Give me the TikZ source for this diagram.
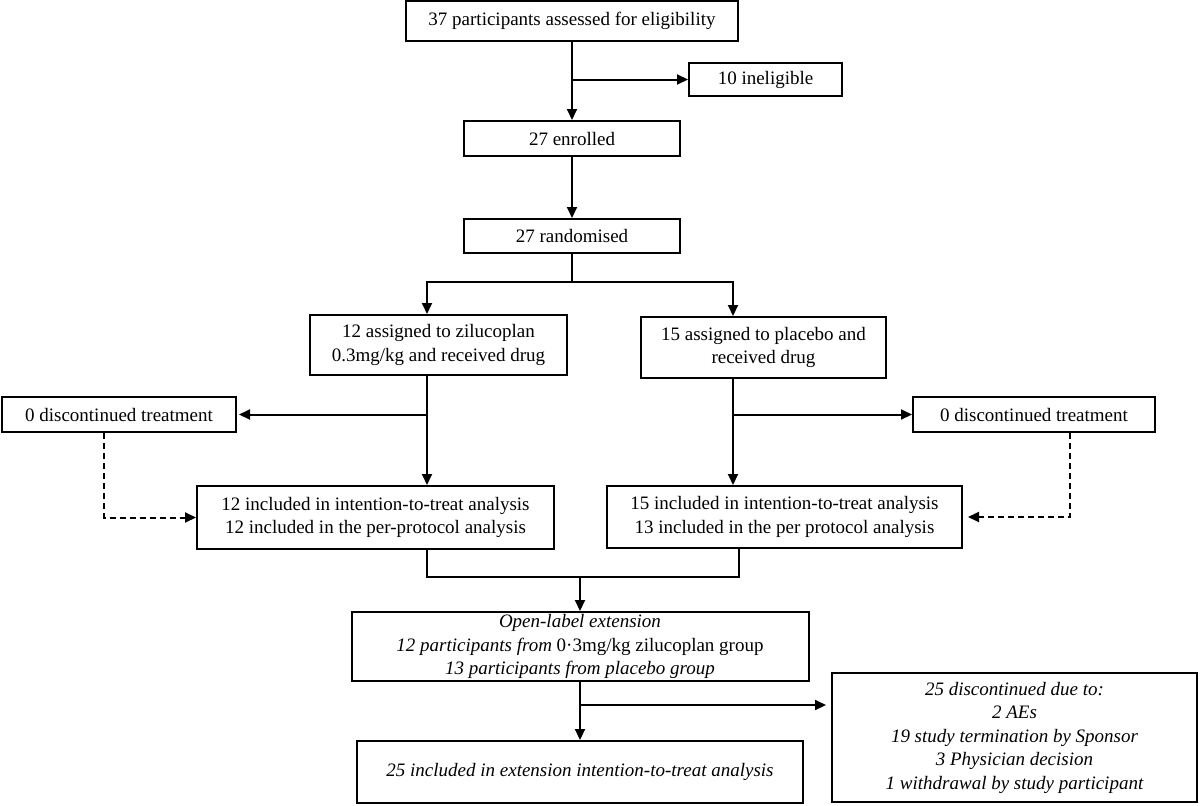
\documentclass[tikz,border=0pt]{standalone}
\usepackage{fontspec}
\setmainfont{Liberation Serif}
\usetikzlibrary{arrows.meta}

\begin{document}
\begin{tikzpicture}[x=1pt, y=-1pt,
	box/.style={draw, line width=2pt, align=center, inner sep=2pt, font=\fontsize{19}{23.5}\selectfont},
	arr/.style={line width=2pt, -{Triangle[length=11pt,width=10pt]}},
	dasharr/.style={arr, dash pattern=on 6pt off 4pt}]

\useasboundingbox (0,0) rectangle (1200,806);

% boxes
\node[box, minimum width=332pt, minimum height=40pt] (elig) at (572,21) {37 participants assessed for eligibility};
\node[box, minimum width=153pt, minimum height=33pt] (inelig) at (765.5,79.5) {10 ineligible};
\node[box, minimum width=216pt, minimum height=35pt] (enrol) at (572,138.5) {27 enrolled};
\node[box, minimum width=216pt, minimum height=34pt] (rand) at (572,236) {27 randomised};

\node[box, minimum width=257pt, minimum height=60pt] (zil) at (438.5,345) {12 assigned to zilucoplan\\0.3mg/kg and received drug};
\node[box, minimum width=245pt, minimum height=61pt] (plac) at (763.5,347.5) {15 assigned to placebo and\\received drug};

\node[box, minimum width=234pt, minimum height=35pt] (discL) at (119,414.5) {0 discontinued treatment};
\node[box, minimum width=242pt, minimum height=35pt] (discR) at (1034,414.5) {0 discontinued treatment};

\node[box, minimum width=357pt, minimum height=63pt] (ittL) at (375.5,517.5) {12 included in intention-to-treat analysis\\12 included in the per-protocol analysis};
\node[box, minimum width=355pt, minimum height=62pt] (ittR) at (784.5,517) {15 included in intention-to-treat analysis\\13 included in the per protocol analysis};

\node[box, minimum width=457pt, minimum height=69pt] (ole) at (580,646.5) {\textit{Open-label extension}\\\textit{12 participants from} 0·3mg/kg zilucoplan group\\\textit{13 participants from placebo group}};
\node[box, minimum width=446pt, minimum height=62pt] (incl) at (580,772) {\textit{25 included in extension intention-to-treat analysis}};
\node[box, minimum width=365pt, minimum height=129pt, font=\fontsize{19}{23.5}\selectfont\itshape] (discont) at (1014.5,737.5) {25 discontinued due to:\\2 AEs\\19 study termination by Sponsor\\3 Physician decision\\1 withdrawal by study participant};

% columns and joints
\coordinate (lcol) at (427,0);
\coordinate (rcol) at (733,0);
\coordinate (ldash) at (104,0);
\coordinate (rdash) at (1070,0);
\coordinate (rmerge) at (739,0);
\coordinate (join) at (580,577);
\coordinate (fork) at (580,705);

% connectors
\draw[arr] (elig) -- (enrol);
\draw[arr] (elig.south |- inelig.west) -- (inelig.west);
\draw[arr] (enrol) -- (rand);
\draw[arr] (rand.south) -- ++(0,28) -| (lcol |- zil.north);
\draw[arr] (rand.south) -- ++(0,28) -| (rcol |- plac.north);

\draw[arr] (lcol |- zil.south) -- (lcol |- ittL.north);
\draw[arr] (rcol |- plac.south) -- (rcol |- ittR.north);
\draw[arr, shorten >=2pt] (lcol |- discL.east) -- (discL.east);
\draw[arr] (rcol |- discR.west) -- (discR.west);

\draw[dasharr] (ldash |- discL.south) |- (ittL.west);
\draw[dasharr, shorten >=5pt] (rdash |- discR.south) |- (ittR.east);

\draw[line width=2pt] (lcol |- ittL.south) |- (join) -| (rmerge |- ittR.south);
\draw[arr] (join) -- (ole);
\draw[arr] (ole) -- (incl);
\draw[arr, shorten >=5pt] (fork) -- (fork -| discont.west);

\end{tikzpicture}
\end{document}
